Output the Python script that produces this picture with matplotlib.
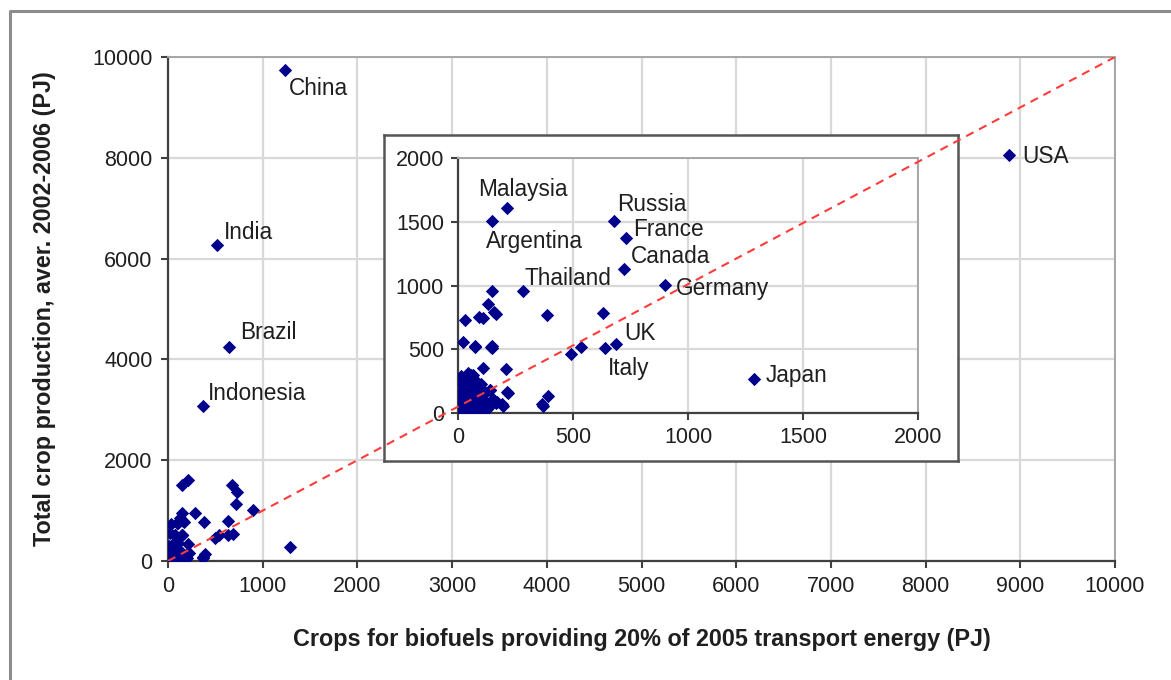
import matplotlib
matplotlib.use("Agg")
import matplotlib.pyplot as plt
from matplotlib.lines import Line2D

plt.rcParams['font.family'] = ['Liberation Sans', 'DejaVu Sans']

# ---- data (PJ) ----
named_countries = ["USA", "China", "India", "Brazil", "Indonesia", "Malaysia", "Argentina",
                   "Russia", "France", "Canada", "Thailand", "Germany", "UK", "Italy", "Japan"]
named_x = [8880, 1240, 520, 645, 370, 214, 147, 680, 731, 720, 283, 899, 689, 637, 1287]
named_y = [8050, 9740, 6260, 4250, 3080, 1610, 1505, 1505, 1370, 1130, 960, 1005, 540, 512, 268]

other_x = [149, 129, 165, 155, 31, 90, 109, 385, 629, 22, 75, 144, 147, 492, 534,
           107, 208, 214, 191, 365, 393, 74, 148, 217, 196, 370,
           5, 10, 15, 20, 25, 30, 35, 40, 45, 50, 55, 60, 65, 70, 75, 80, 85, 90,
           95, 100, 110, 120, 130, 140, 150, 165, 20, 10, 30, 45, 60, 8, 25, 50,
           75, 100, 120, 15, 35, 55, 85, 5, 43, 65, 9, 96, 139, 170, 126, 83]
other_y = [960, 857, 779, 790, 732, 750, 748, 766, 784, 553, 522, 514, 525, 460, 519,
           356, 343, 161, 73, 73, 135, 517, 510, 157, 55, 55,
           10, 30, 60, 15, 90, 40, 120, 200, 250, 280, 300, 150, 80, 30, 260, 180, 110, 60,
           20, 230, 140, 90, 40, 180, 110, 80, 180, 240, 270, 160, 220, 140, 5, 10,
           5, 15, 25, 290, 220, 50, 45, 100, 314, 298, 235, 204, 180, 86, 47, 24]

main_labels = ["China", "India", "Brazil", "Indonesia", "USA"]
inset_labels = ["Malaysia", "Argentina", "Russia", "France", "Canada", "Thailand",
                "Germany", "UK", "Italy", "Japan"]

main_xticks = list(range(0, 10001, 1000))
main_yticks = list(range(0, 10001, 2000))
inset_ticks = [0, 500, 1000, 1500, 2000]

xlabel = "Crops for biofuels providing 20% of 2005 transport energy (PJ)"
ylabel = "Total crop production, aver. 2002-2006 (PJ)"

# label offsets in pixels (dx to left edge, dy to centre, up positive)
label_offsets_px = {
    "China": (3, -18), "India": (7, 13), "Brazil": (11, 14), "Indonesia": (5, 12),
    "USA": (13, -1),
    "Malaysia": (-29, 18), "Argentina": (-6, -20), "Russia": (3, 17), "France": (7, 9),
    "Canada": (7, 12), "Thailand": (1, 12), "Germany": (11, -4), "UK": (8, 11),
    "Italy": (3, -21), "Japan": (12, 3),
}

W, H = 1171, 680
fig = plt.figure(figsize=(W / 100, H / 100), dpi=100)
fig.patch.set_facecolor('white')

MARKER_COLOR = '#00008B'
GRID_COLOR = '#d9d9d9'
SPINE_DARK = '#404040'
SPINE_LIGHT = '#a6a6a6'
TEXT_COLOR = '#1f1f1f'
FS_TICK = 15.5
FS_LABEL = 16.8
FS_ANN = 16.3
MS = 46
px2pt = 0.72

def fx(px):
    return px / W

def fy(py):
    return 1 - py / H

# outer frame
fig.add_artist(Line2D([fx(10), fx(10), 1.05], [-0.05, fy(11), fy(11)],
                      transform=fig.transFigure, color='#8c8c8c', lw=2.2))

all_x = named_x + other_x
all_y = named_y + other_y

def style_axes(ax, xticks, yticks, xmax, ymax):
    ax.set_xlim(0, xmax)
    ax.set_ylim(0, ymax)
    ax.set_xticks(xticks)
    ax.set_yticks(yticks)
    ax.grid(True, color=GRID_COLOR, lw=1.6, zorder=0)
    ax.set_axisbelow(True)
    for s in ['left', 'bottom']:
        ax.spines[s].set_color(SPINE_DARK)
        ax.spines[s].set_linewidth(1.6)
    for s in ['top', 'right']:
        ax.spines[s].set_color(SPINE_LIGHT)
        ax.spines[s].set_linewidth(1.4)
    ax.tick_params(direction='out', length=5, width=1.5, color=SPINE_DARK,
                   labelsize=FS_TICK, labelcolor=TEXT_COLOR, pad=6, top=False, right=False)

# main axes
ax = fig.add_axes([fx(168), fy(561), fx(1115) - fx(168), fy(57) - fy(561)])
ax.set_zorder(1)
style_axes(ax, main_xticks, main_yticks, 10000, 10000)
ax.scatter(all_x, all_y, marker='D', s=MS, color=MARKER_COLOR, linewidths=0, zorder=3)
ax.set_xlabel(xlabel, fontsize=FS_LABEL, fontweight='bold', labelpad=22, color=TEXT_COLOR)
ax.set_ylabel(ylabel, fontsize=FS_LABEL, fontweight='bold', labelpad=26, color=TEXT_COLOR)

def add_labels(a, names):
    for n in names:
        i = named_countries.index(n)
        dx, dy = label_offsets_px[n]
        a.annotate(n, (named_x[i], named_y[i]), xytext=(dx * px2pt, dy * px2pt),
                   textcoords='offset points', ha='left', va='center',
                   fontsize=FS_ANN, color=TEXT_COLOR, zorder=5, annotation_clip=False)

add_labels(ax, main_labels)

# inset frame box
fr = fig.add_axes([fx(384), fy(461), fx(958) - fx(384), fy(135) - fy(461)])
fr.set_zorder(2)
fr.set_xticks([]); fr.set_yticks([])
fr.set_facecolor('white')
for s in fr.spines.values():
    s.set_color('#555555')
    s.set_linewidth(1.8)

# inset axes
ins = fig.add_axes([fx(458), fy(413), fx(918) - fx(458), fy(158) - fy(413)])
ins.set_zorder(3)
ins.patch.set_alpha(0)
style_axes(ins, inset_ticks, inset_ticks, 2000, 2000)
ins.tick_params(pad=5)
ins.scatter(all_x, all_y, marker='D', s=MS, color=MARKER_COLOR, linewidths=0, zorder=3)
add_labels(ins, inset_labels)

# overlay 1:1 line across everything
ov = fig.add_axes(ax.get_position())
ov.set_zorder(4)
ov.set_xlim(0, 10000)
ov.set_ylim(0, 10000)
ov.axis('off')
ov.plot([0, 10000], [0, 10000], ls=(0, (4, 3)), color='#ff3b3b', lw=1.5)

fig.savefig('out.png', dpi=100, facecolor='white')
